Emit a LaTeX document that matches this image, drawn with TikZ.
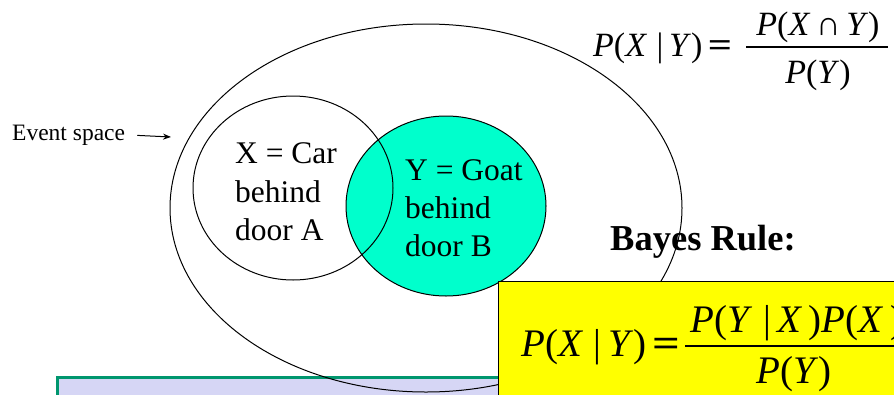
\documentclass[tikz,border=0pt]{standalone}
\usepackage{fontspec}
\usepackage{graphicx}
\setmainfont{Liberation Serif}
\usetikzlibrary{arrows.meta}
\newcommand{\mi}[1]{\textit{#1}}
\newcommand{\eqsign}{\scalebox{1.25}[1]{\textbf{=}}}
\definecolor{teal2}{RGB}{0,255,204}
\definecolor{lav}{RGB}{214,214,245}
\definecolor{grn}{RGB}{0,150,110}
\definecolor{yel}{RGB}{255,255,0}
\tikzset{
  lbl/.style={anchor=base west, inner sep=0pt, font=\fontsize{31.5}{36}\selectfont},
  small/.style={anchor=base west, inner sep=0pt, font=\fontsize{23.5}{26}\selectfont},
  fA/.style={inner sep=0pt, font=\fontsize{34}{40}\selectfont},
  fB/.style={inner sep=0pt, font=\fontsize{39}{46}\selectfont},
  outline/.style={draw=black, line width=1pt},
  evarrow/.style={-{Stealth[length=8pt,width=6pt]}, line width=1pt},
}
\begin{document}
\begin{tikzpicture}[x=1pt,y=-1pt]
\useasboundingbox (0,0) rectangle (894,394);
\fill[white] (0,0) rectangle (894,394);
% lavender box
\draw[fill=lav, draw=grn, line width=3pt] (57,377) rectangle (920,420);
% event space ellipse
\draw[outline] (426,208) ellipse [x radius=256, y radius=184];
% Y circle
\draw[outline, fill=teal2] (446,206) ellipse [x radius=100, y radius=90];
% X circle
\draw[outline] (293,188) ellipse [x radius=100, y radius=92];
% labels X
\node[lbl] (x1) at (235,163) {X = Car};
\node[lbl] (x2) at (235,202) {behind};
\node[lbl] (x3) at (235,240) {door A};
% labels Y
\node[lbl] (y1) at (405,180) {Y = Goat};
\node[lbl] (y2) at (405,218) {behind};
\node[lbl] (y3) at (405,256) {door B};
% event space
\node[small] (ev) at (12,140) {Event space};
\coordinate (evtip) at (171,137);
\draw[evarrow, shorten <=12pt] (ev.east) -- (evtip);
% Bayes rule
\node[anchor=base west, inner sep=0pt, font=\fontsize{36.5}{42}\selectfont\bfseries] (br) at (610,250) {Bayes Rule:};
% top formula
\node[fA, anchor=base west] (tl) at (593,56) {\mi{P}(\mi{X}\;|\,\mi{Y})\,\eqsign};
\node[fA, anchor=base] (tn) at (818,35) {\mi{P}(\mi{X}\,∩\,\mi{Y})};
\node[fA, anchor=base] (td) at (818,83) {\mi{P}(\mi{Y})};
\coordinate (tfl) at (746,47);
\coordinate (tfr) at (888,47);
\draw[line width=2pt] (tfl) -- (tfr);
% yellow box
\draw[fill=yel, draw=black, line width=0.8pt] (498,281) rectangle (920,420);
\node[fB, anchor=base west] (bl) at (521,356) {\mi{P}(\mi{X}\;|\,\mi{Y})\,\eqsign};
\node[fB, anchor=base west] (bn) at (690,332) {\mi{P}(\mi{Y}\;|\,\mi{X}\,)\mi{P}(\mi{X}\,)};
\node[fB, anchor=base] (bd) at (794,383) {\mi{P}(\mi{Y})};
\coordinate (bfl) at (685,346);
\coordinate (bfr) at (910,346);
\draw[line width=2.5pt] (bfl) -- (bfr);
\end{tikzpicture}
\end{document}
